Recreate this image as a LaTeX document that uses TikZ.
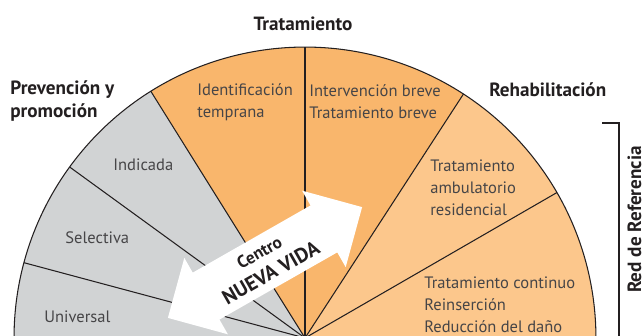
\documentclass[tikz,border=0pt]{standalone}
\usepackage{fontspec}
\setmainfont{PT Sans}
\usetikzlibrary{arrows,shapes}
\definecolor{prevgray}{RGB}{209,211,212}
\definecolor{treatorange}{RGB}{249,182,108}
\definecolor{rehaborange}{RGB}{252,199,140}
\definecolor{inkgray}{RGB}{35,31,32}
\definecolor{labelgray}{RGB}{70,69,71}
\tikzstyle{divider}=[draw=inkgray,line width=0.6pt]
\tikzstyle{level}=[anchor=west,align=left,inner sep=0pt,text=labelgray,font=\fontsize{9.4}{12.5}\selectfont]
\tikzstyle{heading}=[inner sep=0pt,align=left,text=inkgray,font=\fontsize{10.9}{13}\selectfont\bfseries]

\begin{document}
\begin{tikzpicture}[x=0.02cm,y=0.02cm]

    \useasboundingbox (0,0) rectangle (642,335);
    \clip (0,0) rectangle (642,335);

    \coordinate (o) at (305,-3);
    \def\r{5.82cm}

    % sectors of the half circle
    \foreach \from/\to/\col in {185/165/prevgray, 165/144/prevgray, 144/122/prevgray, 122/90/treatorange, 90/57/treatorange, 57/30/rehaborange, 30/-5/rehaborange}
        \fill[\col] (o) -- ++(\from:\r) arc[start angle=\from, end angle=\to, radius=\r] -- cycle;

    \foreach \a in {165,144,122,90,57,30}
        \path[divider] (o) -- ++(\a:\r);
    \path[divider] (o) ++(185:\r) arc[start angle=185, end angle=-5, radius=\r];

    \foreach \x/\y/\name/\txt in {44/18/universal/{Universal}, 65/97/selectiva/{Selectiva}, 113/170/indicada/{Indicada},
            197/233/identificacion/{Identificación\\temprana}, 309/233/intervencion/{Intervención breve\\Tratamiento breve},
            430/147/ambulatorio/{Tratamiento\\ambulatorio\\residencial}, 424/30/continuo/{Tratamiento continuo\\Reinserción\\Reducción del daño}}
        \node[level] (\name) at (\x,\y) {\txt};

    \node[heading, anchor=center] (tratamiento) at (303,311) {Tratamiento};
    \node[heading, anchor=west] (prevencion) at (10,234) {Prevención y\\promoción};
    \node[heading, anchor=west] (rehabilitacion) at (489,245) {Rehabilitación};

    % red de referencia
    \draw[inkgray, line width=0.6pt] (602,212) -- (619,212) -- (619,-5);
    \node[heading, rotate=90, anchor=base east] (red) at (641,189) {Red de Referencia};

    % double arrow of the centre
    \begin{scope}[shift={(265,72.5)}, rotate=29.7]
        \fill[white] (-111.8,0) -- (-67.8,44) -- (-67.8,27) -- (67.8,27) -- (67.8,44) -- (111.8,0)
            -- (67.8,-44) -- (67.8,-27) -- (-67.8,-27) -- (-67.8,-44) -- cycle;
        \node[heading, rotate=29.7, font=\fontsize{9.8}{11}\selectfont\bfseries] (centro) at (0,11.6) {Centro};
        \node[heading, rotate=29.7, font=\fontsize{11.6}{13}\selectfont\bfseries] (nuevavida) at (0,-11.6) {NUEVA VIDA};
    \end{scope}

\end{tikzpicture}
\end{document}
